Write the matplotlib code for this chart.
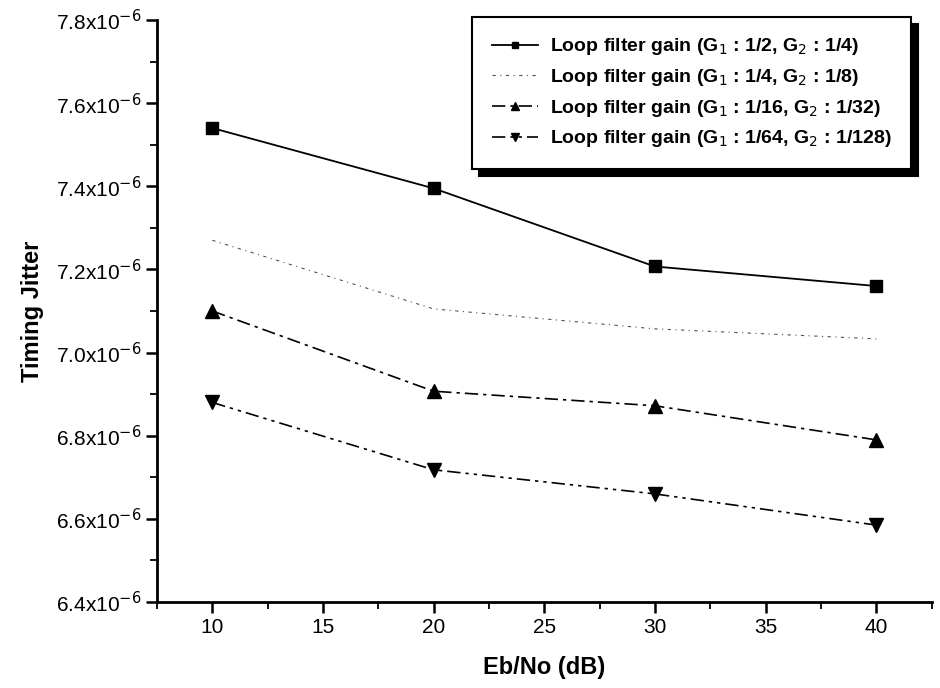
import numpy as np
import matplotlib.pyplot as plt
from matplotlib.ticker import MultipleLocator, FuncFormatter

plt.rcParams['font.family'] = ['Liberation Sans', 'DejaVu Sans']

ebno = [10, 20, 30, 40]
jitter_g2 = [7.54, 7.395, 7.207, 7.16]
jitter_g4 = [7.27, 7.105, 7.057, 7.033]
jitter_g16 = [7.10, 6.907, 6.872, 6.79]
jitter_g64 = [6.88, 6.718, 6.66, 6.585]
labels = [
    r"Loop filter gain (G$_1$ : 1/2, G$_2$ : 1/4)",
    r"Loop filter gain (G$_1$ : 1/4, G$_2$ : 1/8)",
    r"Loop filter gain (G$_1$ : 1/16, G$_2$ : 1/32)",
    r"Loop filter gain (G$_1$ : 1/64, G$_2$ : 1/128)",
]

fig = plt.figure(figsize=(9.4, 6.88), dpi=100)
ax = fig.add_axes([0.167, 0.125, 0.824, 0.846])

scale = 1e-6
ax.plot(ebno, np.array(jitter_g2) * scale, color="black", lw=1.3, marker="s", ms=9,
        label=labels[0])
ax.plot(ebno, np.array(jitter_g4) * scale, color="#555555", lw=0.8, ls=(0, (3, 4, 1, 4)),
        label=labels[1])
ax.plot(ebno, np.array(jitter_g16) * scale, color="black", lw=1.2, ls=(0, (8, 3, 2, 3)),
        marker="^", ms=10, label=labels[2])
ax.plot(ebno, np.array(jitter_g64) * scale, color="black", lw=1.2, ls=(0, (8, 3, 2, 3, 2, 3)),
        marker="v", ms=10, label=labels[3])

ax.set_xlim(7.5, 42.5)
ax.set_ylim(6.4e-6, 7.8e-6)
ax.xaxis.set_major_locator(MultipleLocator(5))
ax.xaxis.set_minor_locator(MultipleLocator(2.5))
ax.yaxis.set_major_locator(MultipleLocator(0.2e-6))
ax.yaxis.set_minor_locator(MultipleLocator(0.1e-6))
ax.yaxis.set_major_formatter(FuncFormatter(lambda v, p: f"{v / scale:.1f}x10$^{{-6}}$"))

for side in ("top", "right"):
    ax.spines[side].set_visible(False)
for side in ("left", "bottom"):
    ax.spines[side].set_linewidth(2)
ax.tick_params(which="major", direction="out", length=8, width=1.8, labelsize=15)
ax.tick_params(which="minor", direction="out", length=5, width=1.3)

ax.set_xlabel("Eb/No (dB)", fontsize=17, fontweight="bold", labelpad=14)
ax.set_ylabel("Timing Jitter", fontsize=17, fontweight="bold", labelpad=8)

leg = ax.legend(loc="upper right", bbox_to_anchor=(0.986, 1.022), frameon=True, fancybox=False,
                shadow={"color": "black", "alpha": 1, "ox": 5, "oy": -5},
                edgecolor="black", prop={"weight": "bold", "size": 14}, handlelength=2.4,
                markerscale=0.55, borderpad=1.0, labelspacing=0.5, handletextpad=0.6)
leg.get_frame().set_linewidth(1.5)

fig.savefig("out.png", dpi=100)
